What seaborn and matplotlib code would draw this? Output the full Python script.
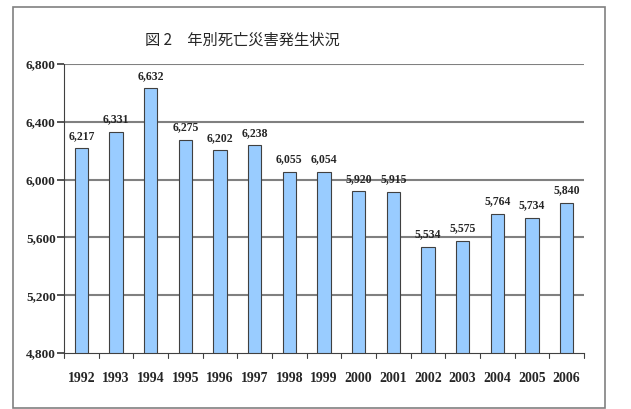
import matplotlib
matplotlib.use("Agg")
import matplotlib.pyplot as plt
import seaborn as sns
import pandas as pd
from matplotlib.patches import Rectangle

years = ["1992", "1993", "1994", "1995", "1996", "1997", "1998", "1999",
         "2000", "2001", "2002", "2003", "2004", "2005", "2006"]
deaths = [6217, 6331, 6632, 6275, 6202, 6238, 6055, 6054,
          5920, 5915, 5534, 5575, 5764, 5734, 5840]
y_ticks = [4800, 5200, 5600, 6000, 6400, 6800]
title = "図 2　年別死亡災害発生状況"

df = pd.DataFrame({"year": years, "deaths": deaths})

sns.set_theme(style="white")
plt.rcParams['font.family'] = ['Liberation Serif', 'Noto Sans CJK JP', 'DejaVu Sans']

fig = plt.figure(figsize=(6.31, 4.09), dpi=100)
fig.patch.set_facecolor("white")
fig.patches.append(Rectangle((13/631, 1 - 408/409), (605-13)/631, (408-7)/409,
                             transform=fig.transFigure, fill=False,
                             edgecolor="#808080", linewidth=1.2))

ax = fig.add_axes([64/631, 1 - 353/409, (584-64)/631, (353-64)/409])
sns.barplot(data=df, x="year", y="deaths", ax=ax, color="#99CCFF",
            edgecolor="#404040", linewidth=0.8, width=0.38, saturation=1)

ax.set_ylim(4800, 6800)
ax.set_xlim(-0.5, len(years) - 0.5)
ax.set_yticks(y_ticks)
ax.set_yticklabels([f"{v:,}" for v in y_ticks], fontsize=9.5, fontweight="bold",
                   family="Liberation Serif")
ax.set_xticks(range(len(years)))
ax.set_xticklabels(years, fontsize=10, fontweight="bold", family="Liberation Serif")
ax.tick_params(axis="x", length=0, pad=14)
ax.tick_params(axis="y", length=5, direction="out", left=True, color="#404040", pad=1)
for i in range(len(years) + 1):
    ax.plot([i - 0.5, i - 0.5], [4800, 4800 - 2000 * 5 / 289], color="#404040",
            lw=0.8, clip_on=False)

for v in y_ticks[1:]:
    ax.axhline(v, color="#808080", lw=1.5, zorder=0)

for s in ["top", "right"]:
    ax.spines[s].set_visible(False)
ax.spines["left"].set_color("#404040")
ax.spines["bottom"].set_color("#404040")
ax.spines["left"].set_linewidth(0.8)
ax.spines["bottom"].set_linewidth(0.8)
ax.set_xlabel("")
ax.set_ylabel("")

for i, v in enumerate(deaths):
    ax.text(i, v + 45, f"{v:,}", ha="center", va="bottom", fontsize=8.5,
            fontweight="bold", family="Liberation Serif")

fig.text(242/631, 1 - 40/409, title, ha="center", va="center", fontsize=11,
         family=["Noto Sans CJK JP", "DejaVu Sans"])

fig.savefig("out.png", dpi=100)
